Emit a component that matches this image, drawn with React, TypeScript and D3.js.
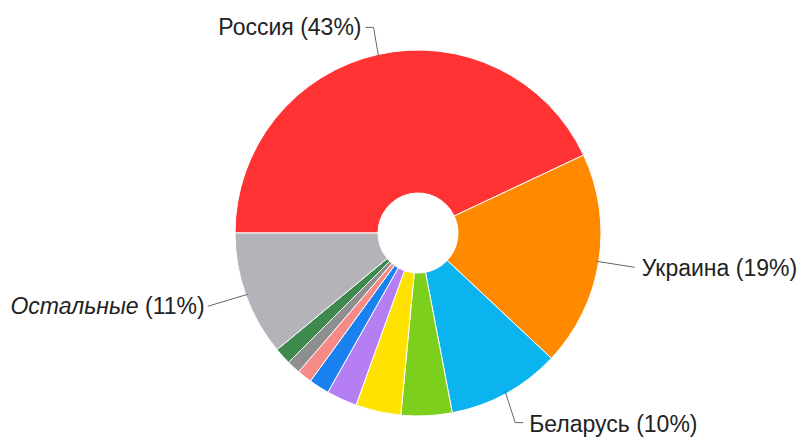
import React from "react";
import * as d3 from "d3";

const categories = ["Россия", "Украина", "Беларусь", "Казахстан", "Узбекистан", "Латвия", "Эстония", "Литва", "Молдова", "Грузия", "Остальные"];
const values = [43, 19, 10, 4.5, 4, 2.7, 1.8, 1.3, 1.2, 1.5, 11];
const percentLabels = ["43%", "19%", "10%", "", "", "", "", "", "", "", "11%"];
const colors = ["#ff3333", "#ff8a00", "#0bb3ef", "#7ccf1c", "#ffe200", "#b57ef2", "#1a82f0", "#f58a86", "#8e8e8e", "#3e8a4e", "#b3b3b9"];

const W = 802, H = 437;
const cx = 418, cy = 233, R = 183, r0 = 40;

const labelLayout: Record<number, { pts: [number, number][]; tx: number; ty: number; anchor: string }> = {
  0: { pts: [[-5, -29], [-13, -29]], tx: -17, ty: -21, anchor: "end" },
  1: { pts: [[38, 6]], tx: 45, ty: 15, anchor: "start" },
  2: { pts: [[10, 31], [18, 31]], tx: 24, ty: 40, anchor: "start" },
  10: { pts: [[-40, 12]], tx: -43, ty: 20, anchor: "end" },
};

export default function App() {
  const pie = d3.pie<number>().sort(null).startAngle(-Math.PI / 2).endAngle((3 * Math.PI) / 2);
  const arcs = pie(values);
  const arc = d3.arc<d3.PieArcDatum<number>>().innerRadius(r0).outerRadius(R);
  const edgeArc = d3.arc<d3.PieArcDatum<number>>().innerRadius(R - 2).outerRadius(R - 2);

  return (
    <svg width={W} height={H} style={{ position: "absolute", left: 0, top: 0 }} fontFamily="Arial, 'Liberation Sans', sans-serif">
      <g transform={`translate(${cx},${cy})`}>
        {arcs.map((a, i) => (
          <path key={i} d={arc(a) || ""} fill={colors[i]} stroke="#fff" strokeWidth={1} />
        ))}
        {arcs.map((a, i) => {
          const lay = labelLayout[i];
          if (!lay) return null;
          const [px, py] = edgeArc.centroid(a);
          const pts = [[px, py], ...lay.pts.map(([dx, dy]) => [px + dx, py + dy])];
          const line = d3.line()(pts as [number, number][]) || "";
          return (
            <g key={"l" + i}>
              <path d={line} fill="none" stroke="#666" strokeWidth={1} />
              <text x={px + lay.tx} y={py + lay.ty} textAnchor={lay.anchor} fontSize={23} fill="#222">
                {i === 10 ? <tspan fontStyle="italic">{categories[i]}</tspan> : categories[i]}
                {` (${percentLabels[i]})`}
              </text>
            </g>
          );
        })}
      </g>
    </svg>
  );
}
